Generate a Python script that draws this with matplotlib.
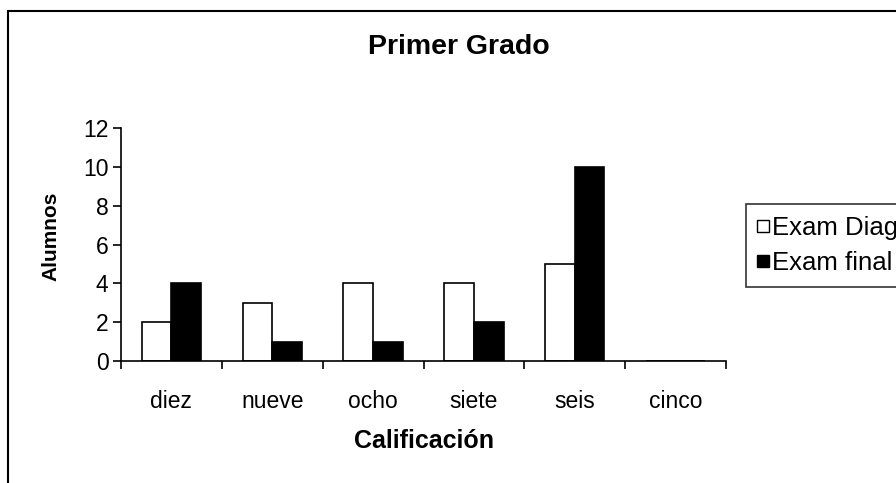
import matplotlib
matplotlib.use("Agg")
import matplotlib.pyplot as plt
from matplotlib.patches import Rectangle
from matplotlib.lines import Line2D
import numpy as np

plt.rcParams["font.family"] = ["Liberation Sans", "DejaVu Sans"]

# ==============================
# DATA
# ==============================
categorias = ["diez", "nueve", "ocho", "siete", "seis", "cinco"]
exam_diag = [2, 3, 4, 4, 5, 0]
exam_final = [4, 1, 1, 2, 10, 0]
series_names = ["Exam Diagnóstico", "Exam final"]
y_ticks = [0, 2, 4, 6, 8, 10, 12]

W, H = 896, 483
fig = plt.figure(figsize=(W / 100, H / 100), dpi=100)
fig.patch.set_facecolor("white")

# plot area in pixels
left, right, top, bottom = 121, 726, 128, 361
ax = fig.add_axes([left / W, 1 - bottom / H, (right - left) / W, (bottom - top) / H])

x = np.arange(len(categorias))
bw = 0.295
ax.bar(x - bw / 2, exam_diag, bw, color="white", edgecolor="black", linewidth=1.2)
ax.bar(x + bw / 2, exam_final, bw, color="black", edgecolor="black", linewidth=1.2)

ax.set_xlim(-0.5, len(categorias) - 0.5)
ax.set_ylim(0, 12)
ax.set_yticks(y_ticks)
ax.tick_params(axis="y", direction="out", length=6, width=1.2, labelsize=16.5, pad=3)

# category ticks sit between groups, labels centred under the bars
ax.set_xticks(np.arange(len(categorias) + 1) - 0.5)
ax.set_xticklabels([])
ax.set_xticks(x, minor=True)
ax.set_xticklabels(categorias, minor=True, fontsize=16.5)
ax.tick_params(axis="x", which="major", direction="out", length=6, width=1.2)
ax.tick_params(axis="x", which="minor", length=0, pad=21)

for s in ["top", "right"]:
    ax.spines[s].set_visible(False)
for s in ["left", "bottom"]:
    ax.spines[s].set_linewidth(1.2)

fig.text(459 / W, 1 - 47 / H, "Primer Grado", ha="center", va="center",
         fontsize=20.5, fontweight="bold")
fig.text(51 / W, 1 - 236 / H, "Alumnos", ha="center", va="center",
         rotation=90, fontsize=15, fontweight="bold")
fig.text(424 / W, 1 - 441 / H, "Calificación", ha="center", va="center",
         fontsize=18, fontweight="bold")

# legend box running off the right edge
handles = [
    Line2D([], [], marker="s", linestyle="none", markersize=8,
           markerfacecolor="white", markeredgecolor="black"),
    Line2D([], [], marker="s", linestyle="none", markersize=8,
           markerfacecolor="black", markeredgecolor="black"),
]
leg = fig.legend(handles, series_names, loc="upper left",
                 bbox_to_anchor=(746 / W, 1 - 204 / H), fontsize=18.5,
                 frameon=True, fancybox=False, handlelength=0.4,
                 handletextpad=0.15, borderpad=0.45, labelspacing=0.45,
                 borderaxespad=0)
leg.get_frame().set_edgecolor("black")
leg.get_frame().set_linewidth(1.2)

# outer chart border
fig.patches.append(Rectangle((8 / W, -0.1), 1.2, 1 - 11 / H + 0.1,
                             transform=fig.transFigure, fill=False,
                             edgecolor="black", linewidth=1.5, zorder=-1))

fig.savefig("out.png", dpi=100)
